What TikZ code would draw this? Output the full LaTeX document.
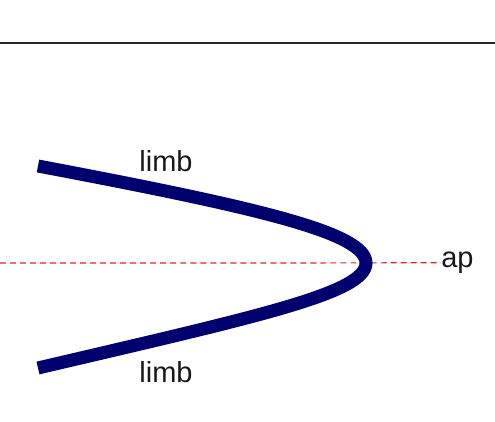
\documentclass[tikz,border=0pt]{standalone}
\usepackage{fontspec}
\setmainfont{Liberation Sans}
\definecolor{limbblue}{RGB}{0,0,110}
\definecolor{axisred}{RGB}{215,40,40}
\begin{document}
\begin{tikzpicture}[x=0.02cm, y=-0.02cm,
  label/.style={font=\fontsize{16.5}{18}\selectfont, inner sep=0pt, text=black!90},
  limbline/.style={draw=limbblue, line width=7.4pt, line cap=butt}]
  \useasboundingbox (0,0) rectangle (495,422);
  % Top line
  \coordinate (tl) at (0,43);
  \coordinate (tr) at (495,43);
  \draw[line width=1.7pt, black!85] (tl) -- (tr);
  % Axis through the apex
  \coordinate (axl) at (0,263);
  \coordinate (apex) at (366,263);
  \node[label, anchor=mid west] (ap) at (441,263) {ap};
  \draw[axisred, line width=0.7pt, dash pattern=on 3.4pt off 2.3pt] (axl) -- (ap.west);
  % The two limbs
  \coordinate (upend) at (38,166);
  \coordinate (loend) at (38,368);
  \draw[limbline] (upend) .. controls (260,208) and (366,233) .. (apex)
    .. controls (366,293) and (260,316) .. (loend);
  % Labels
  \node[label, anchor=base] (uplimb) at (166,172) {limb};
  \node[label, anchor=base] (lolimb) at (166,383) {limb};
\end{tikzpicture}
\end{document}
